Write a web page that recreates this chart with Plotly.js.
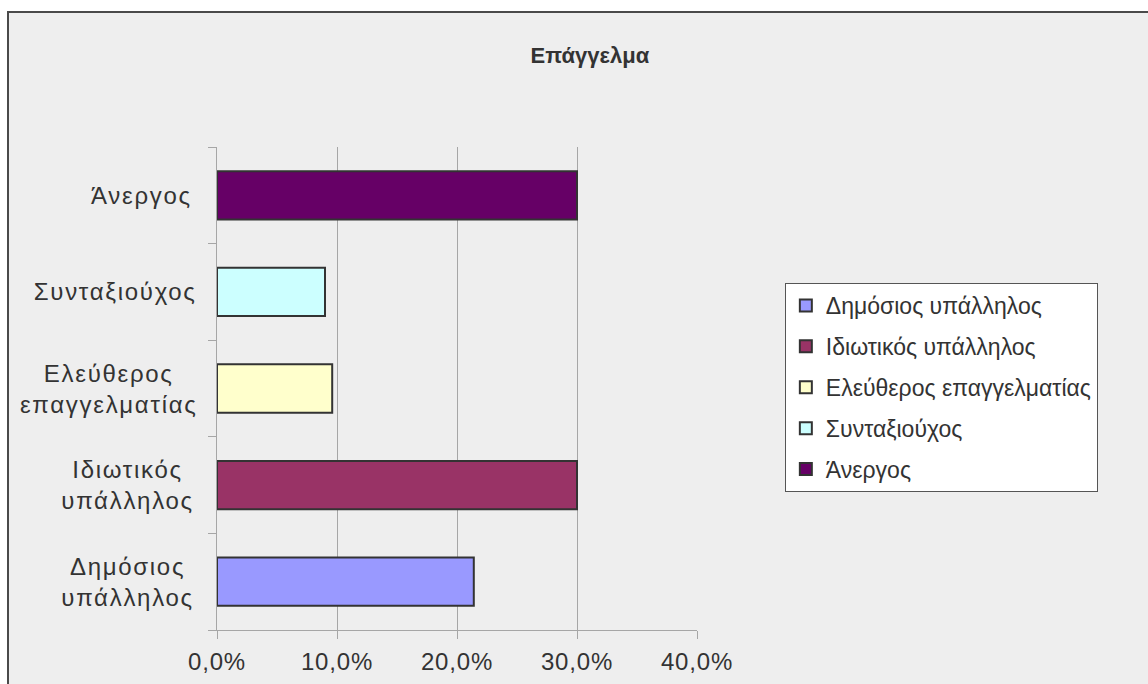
<!DOCTYPE html>
<html>
<head>
<meta charset="utf-8">
<script src="https://cdn.plot.ly/plotly-3.0.1.min.js"></script>
<style>
  html, body { margin: 0; padding: 0; background: #ffffff; width: 1148px; height: 684px; overflow: hidden; }
  #frame { position: absolute; left: 7px; top: 11px; border-left: 2px solid #4a4a4a; border-top: 2px solid #4a4a4a; }
  #chart { width: 1139px; height: 671px; }
  /* slightly open letter spacing for the axis texts */
  #chart .annotation-text { letter-spacing: 1.7px; }
  #chart .xtick text { letter-spacing: 0.8px; }
</style>
</head>
<body>
<div id="frame"><div id="chart"></div></div>
<script>
// Occupation shares (%), listed from the bottom bar to the top bar
const categories = ['Δημόσιος υπάλληλος', 'Ιδιωτικός υπάλληλος', 'Ελεύθερος επαγγελματίας', 'Συνταξιούχος', 'Άνεργος'];
const axisLabels = ['Δημόσιος<br>υπάλληλος', 'Ιδιωτικός<br>υπάλληλος', 'Ελεύθερος<br>επαγγελματίας', 'Συνταξιούχος', 'Άνεργος'];
const shares = [21.4, 30.0, 9.6, 9.0, 30.0];
const barColors = ['#9999ff', '#993366', '#ffffcc', '#ccffff', '#660066'];
const tickValues = [0, 10, 20, 30, 40];
const tickLabels = ['0,0%', '10,0%', '20,0%', '30,0%', '40,0%'];

const textColor = '#333333';
const fontFamily = 'Liberation Sans, Arial, sans-serif';
const labelFont = { family: fontFamily, size: 24, color: textColor };

// One trace per occupation so that each gets its own legend entry
const traces = categories.map((cat, i) => ({
  type: 'bar',
  orientation: 'h',
  x: [shares[i]],
  y: [cat],
  name: cat,
  legendgroup: 'g' + i,
  marker: { color: barColors[i], line: { color: '#333333', width: 2 } },
  hoverinfo: 'skip'
}));

// Category names left of the axis, with centred lines
const nameLabels = categories.map((cat, i) => ({
  xref: 'paper', yref: 'y',
  x: -0.06, y: cat,
  xanchor: 'right', yanchor: 'middle', align: 'center',
  text: axisLabels[i],
  showarrow: false,
  font: labelFont
}));

const layout = {
  width: 1139, height: 671,
  margin: { l: 208, r: 451, t: 134, b: 54 },
  paper_bgcolor: '#eeeeee',
  plot_bgcolor: '#eeeeee',
  barmode: 'overlay',
  bargap: 0.5,
  showlegend: true,
  title: {
    text: 'Επάγγελμα',
    x: 0.51, xref: 'container', xanchor: 'center',
    y: 0.937, yref: 'container', yanchor: 'middle',
    font: { family: fontFamily, size: 22, color: textColor, weight: 'bold' }
  },
  xaxis: {
    range: [0, 40],
    tickmode: 'array', tickvals: tickValues, ticktext: tickLabels,
    showgrid: true, gridcolor: '#a6a6a6', gridwidth: 1,
    zeroline: false,
    showline: true, linecolor: '#a6a6a6', linewidth: 1,
    ticks: 'outside', ticklen: 8, tickcolor: '#a6a6a6',
    ticklabelstandoff: 2,
    tickfont: labelFont,
    fixedrange: true
  },
  yaxis: {
    type: 'category',
    categoryorder: 'array', categoryarray: categories,
    range: [-0.5, 4.5],
    showgrid: false, zeroline: false,
    showline: true, linecolor: '#a6a6a6', linewidth: 1,
    ticks: 'outside', tickson: 'boundaries', ticklen: 8, tickcolor: '#a6a6a6',
    showticklabels: false,
    fixedrange: true
  },
  legend: {
    x: 1.183, y: 0.7184, xanchor: 'left', yanchor: 'top',
    xref: 'paper', yref: 'paper',
    traceorder: 'grouped',
    tracegroupgap: 8,
    bgcolor: '#ffffff', bordercolor: '#555555', borderwidth: 1,
    font: { family: fontFamily, size: 23, color: textColor },
    itemclick: false, itemdoubleclick: false
  },
  annotations: nameLabels
};

Plotly.newPlot('chart', traces, layout, { displayModeBar: false, staticPlot: true });
</script>
</body>
</html>
